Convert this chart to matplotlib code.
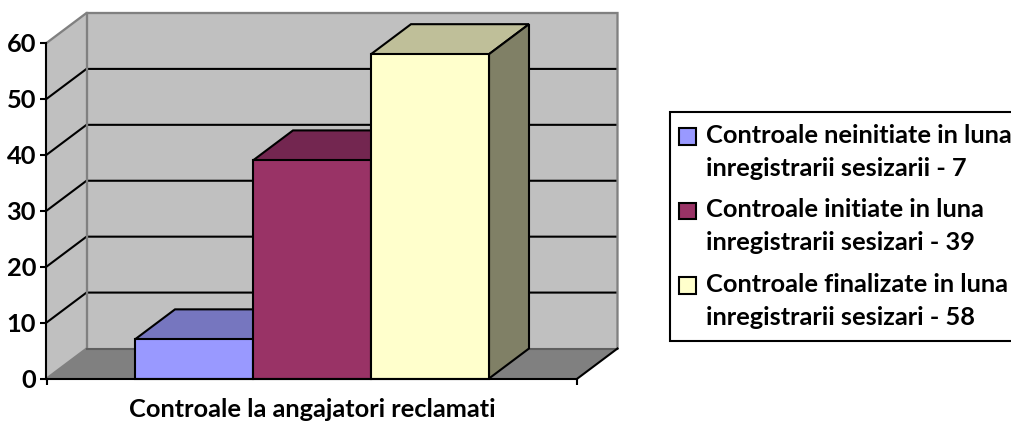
import matplotlib
matplotlib.use("Agg")
import matplotlib.pyplot as plt
from matplotlib.patches import Polygon, Rectangle, Patch
from matplotlib.legend_handler import HandlerPatch
import numpy as np

category = "Controale la angajatori reclamati"
series_labels = [
    "Controale neinitiate in luna\ninregistrarii sesizarii - 7",
    "Controale initiate in luna\ninregistrarii sesizari - 39",
    "Controale finalizate in luna\ninregistrarii sesizari - 58",
]
series_values = [7, 39, 58]
y_ticks = [0, 10, 20, 30, 40, 50, 60]

front_colors = ["#9999FF", "#993366", "#FFFFCC"]
top_colors = ["#7676BF", "#732650", "#BFBF99"]
side_colors = ["#5C5C99", "#5C1F3D", "#808066"]

W, H = 1012, 421
plt.rcParams["font.family"] = ["Lato", "DejaVu Sans"]
plt.rcParams["font.weight"] = "bold"
fig = plt.figure(figsize=(W / 100, H / 100), dpi=100, facecolor="white")
L, R, T, B = 46.5, 577.5, 43, 378.5
ax = fig.add_axes([L / W, 1 - B / H, (R - L) / W, (B - T) / H])
ax.set_xlim(-0.5, 0.5)
ax.set_ylim(0, 60)
ax.patch.set_alpha(0)

LW = 1.5
FS = 18.25
dx = 40 / (R - L)
dy = 30 / (B - T) * 60
x0, x1 = -0.5, 0.5
ymax = y_ticks[-1]
GRAY = "#808080"
WALL = "#C0C0C0"


def poly(pts, fc, ec="none", z=1, lw=LW):
    ax.add_patch(Polygon(pts, closed=True, facecolor=fc, edgecolor=ec, linewidth=lw,
                         zorder=z, clip_on=False, joinstyle="miter"))


# walls and floor
poly([(x0 + dx, dy), (x1 + dx, dy), (x1 + dx, ymax + dy), (x0 + dx, ymax + dy)], WALL, z=1)
poly([(x0, 0), (x0 + dx, dy), (x0 + dx, ymax + dy), (x0, ymax)], WALL, z=1)
poly([(x0, 0), (x1, 0), (x1 + dx, dy), (x0 + dx, dy)], GRAY, z=1)

# gridlines
for v in y_ticks[1:-1]:
    ax.plot([x0, x0 + dx, x1 + dx], [v, v + dy, v + dy], color="black", lw=LW, zorder=1.5,
            clip_on=False, solid_joinstyle="miter", solid_capstyle="butt")

# wall borders
ax.plot([x0, x0 + dx, x1 + dx, x1 + dx], [ymax, ymax + dy, ymax + dy, dy], color=GRAY, lw=LW * 1.1,
        zorder=1.6, clip_on=False, solid_joinstyle="miter")
ax.plot([x0 + dx, x0 + dx], [dy, ymax + dy], color=GRAY, lw=LW * 1.1, zorder=1.6, clip_on=False)
ax.plot([x0, x0 + dx], [0, dy], color=GRAY, lw=LW, zorder=1.6, clip_on=False)
ax.plot([x0 + dx, x1 + dx], [dy, dy], color="#5f5f5f", lw=LW, zorder=1.6, clip_on=False)
ax.plot([x1, x1 + dx], [0, dy], color="black", lw=LW, zorder=1.7, clip_on=False)

# bars
n = len(series_values)
gap = 0.75
bw = 1 / (n + 2 * gap)
for i, v in enumerate(series_values):
    a = x0 + (gap + i) * bw
    b = a + bw
    z = 3 + i
    poly([(a, v), (b, v), (b + dx, v + dy), (a + dx, v + dy)], top_colors[i], "black", z)
    poly([(b, 0), (b + dx, dy), (b + dx, v + dy), (b, v)], side_colors[i], "black", z)
    poly([(a, 0), (b, 0), (b, v), (a, v)], front_colors[i], "black", z + 0.1)

for s in ["top", "right"]:
    ax.spines[s].set_visible(False)
for s in ["left", "bottom"]:
    ax.spines[s].set_linewidth(LW)
    ax.spines[s].set_zorder(9)

ax.set_yticks(y_ticks)
ax.set_xticks([x0, x1])
ax.set_xticklabels([])
ax.tick_params(axis="both", width=LW, length=4.3, color="black")
ax.tick_params(axis="y", labelsize=FS, pad=3.2)
ax.set_xlabel(category, fontsize=FS, fontweight="bold", labelpad=6, color="black")


class FirstLineHandler(HandlerPatch):
    def create_artists(self, legend, orig_handle, xdescent, ydescent, width, height, fontsize, trans):
        size = 12.0
        off = 11.5
        r = Rectangle((-2.1, (height - ydescent * 2) / 2 - size / 2 + off), size, size,
                      facecolor=orig_handle.get_facecolor(), edgecolor="black",
                      linewidth=LW, transform=trans)
        return [r]


handles = [Patch(facecolor=c, label=l) for c, l in zip(front_colors, series_labels)]
leg = fig.legend(handles=handles, labels=series_labels, loc="upper left",
                 bbox_to_anchor=(670.5 / W, 1 - 112 / H), bbox_transform=fig.transFigure,
                 fontsize=FS, frameon=True, fancybox=False, framealpha=1, edgecolor="black",
                 borderaxespad=0, borderpad=0.47, handlelength=0.72, handletextpad=0.2,
                 labelspacing=0.72, handler_map={Patch: FirstLineHandler()})
leg.get_frame().set_linewidth(LW)
for t in leg.get_texts():
    t.set_linespacing(1.53)
    t.set_fontweight("bold")

fig.savefig("out.png", dpi=100)
